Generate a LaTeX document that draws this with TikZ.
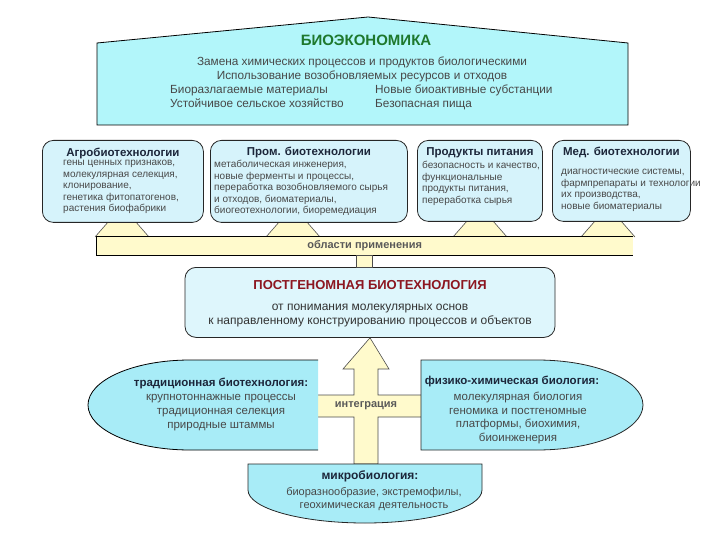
\documentclass[tikz,border=0pt]{standalone}
\usepackage{fontspec}
\setmainfont{Liberation Sans}
\usetikzlibrary{positioning}

\definecolor{roofcyan}{RGB}{178,246,250}
\definecolor{boxcyan}{RGB}{214,243,251}
\definecolor{postcyan}{RGB}{222,246,252}
\definecolor{ovalcyan}{RGB}{168,236,247}
\definecolor{baryellow}{RGB}{255,250,204}
\definecolor{txtgray}{RGB}{72,72,72}
\definecolor{headnavy}{RGB}{28,38,58}
\definecolor{bioegreen}{RGB}{30,120,45}
\definecolor{postred}{RGB}{140,22,32}

\begin{document}
\begin{tikzpicture}[x=1pt, y=-1pt,
    every node/.style={inner sep=0pt, text=txtgray},
    box/.style={draw=black!85, line width=0.8pt, rounded corners=11pt, fill=boxcyan},
    head/.style={font=\bfseries\fontsize{11.5}{13}\selectfont, text=headnavy},
    body/.style={align=left, font=\fontsize{10}{11.5}\selectfont},
    rooftxt/.style={font=\fontsize{11.8}{13}\selectfont},
    oval/.style={draw=black!85, line width=0.8pt, fill=ovalcyan},
    yel/.style={draw=black!70, line width=0.6pt, fill=baryellow}]
  \useasboundingbox (0,0) rectangle (720,540);

  % roof
  \draw[line width=0.8pt, fill=roofcyan] (97,125) -- (97,43) -- (368,17) -- (628,43) -- (628,125) -- cycle;
  \node[font=\bfseries\fontsize{15}{16}\selectfont, text=bioegreen] (bioe) at (366,40) {БИОЭКОНОМИКА};
  \node[rooftxt] (bioe1) at (362,62) {Замена химических процессов и продуктов биологическими};
  \node[rooftxt] (bioe2) at (362,76) {Использование возобновляемых ресурсов и отходов};
  \node[rooftxt, anchor=base west] (bioe3) at (170,94) {Биоразлагаемые материалы};
  \node[rooftxt, anchor=base west] (bioe4) at (170,108) {Устойчивое сельское хозяйство};
  \node[rooftxt, anchor=base west] (bioe5) at (375,94) {Новые биоактивные субстанции};
  \node[rooftxt, anchor=base west] (bioe6) at (375,108) {Безопасная пища};

  % yellow feet under the boxes
  \foreach \cx in {122,293,480,608}
    \draw[yel] (\cx-27,237) -- (\cx-13,221) -- (\cx+13,221) -- (\cx+27,237);

  % application boxes
  \node[box, minimum width=161pt, minimum height=82pt, anchor=north west] (agro) at (42,140) {};
  \node[box, minimum width=197pt, minimum height=82pt, anchor=north west] (prom) at (210,140) {};
  \node[box, minimum width=125pt, minimum height=81pt, anchor=north west] (food) at (417,140) {};
  \node[box, minimum width=138pt, minimum height=81pt, anchor=north west] (med) at (552,140) {};

  \node[head, below=8pt of agro.north] (agrohead) {Агробиотехнологии};
  \node[body, below right=20pt and 21pt of agro.north west] (agrobody)
    {гены ценных признаков,\\молекулярная селекция,\\клонирование,\\генетика фитопатогенов,\\растения биофабрики};
  \node[head, below=7pt of prom.north] (promhead) {Пром. биотехнологии};
  \node[body, below right=20pt and 4pt of prom.north west] (prombody)
    {метаболическая инженерия,\\новые ферменты и процессы,\\переработка возобновляемого сырья\\и отходов, биоматериалы,\\биогеотехнологии, биоремедиация};
  \node[head, below=7pt of food.north] (foodhead) {Продукты питания};
  \node[body, below right=21pt and 5pt of food.north west] (foodbody)
    {безопасность и качество,\\функциональные\\продукты питания,\\переработка сырья};
  \node[head, below=7pt of med.north] (medhead) {Мед. биотехнологии};
  \node[body, below right=29pt and 9pt of med.north west] (medbody)
    {диагностические системы,\\фармпрепараты и технологии\\их производства,\\новые биоматериалы};

  % bar
  \node[fill=baryellow, minimum width=537pt, minimum height=19pt, anchor=north west,
        font=\bfseries\fontsize{11}{13}\selectfont, text=black!65] (bar) at (96,236) {области применения};
  \draw[line width=0.8pt] (bar.north east) -- (bar.north west) -- (bar.south west) -- (bar.south east);

  % post-genomic box
  \node[box, fill=postcyan, minimum width=370pt, minimum height=70pt, anchor=north] (post) at (370,267) {};
  \draw[yel] ([xshift=-8pt]bar.south) rectangle ([xshift=8pt]bar.south |- post.north);
  \node[font=\bfseries\fontsize{13}{15}\selectfont, text=postred, below=13pt of post.north] (posthead)
    {ПОСТГЕНОМНАЯ БИОТЕХНОЛОГИЯ};
  \node[align=center, font=\fontsize{12}{14.5}\selectfont, text=black!80, anchor=north] (postbody)
    at ([yshift=-14pt]posthead.south)
    {от понимания молекулярных основ\\к направленному конструированию процессов и объектов};

  % integration arrow
  \draw[yel] (post.south) -- (389,369) -- (378,369) -- (378,395) -- (424,395) -- (424,417)
    -- (378,417) -- (378,464) -- (354,464) -- (354,417) -- (314,417) -- (314,395)
    -- (354,395) -- (354,369) -- (343,369) -- cycle;
  \node[font=\bfseries\fontsize{11}{13}\selectfont, text=black!65] (integ) at (366,406) {интеграция};

  % traditional biotechnology
  \fill[ovalcyan] (318,360) -- (190,360) .. controls (133.7,360) and (88,380.1) .. (88,405)
    .. controls (88,429.9) and (133.7,450) .. (190,450) -- (318,450) -- cycle;
  \draw[line width=0.8pt] (318,360) -- (190,360) .. controls (133.7,360) and (88,380.1) .. (88,405)
    .. controls (88,429.9) and (133.7,450) .. (190,450) -- (318,450);
  \node[head, font=\bfseries\fontsize{11.5}{13}\selectfont] (trad) at (221,383) {традиционная биотехнология:};
  \node[align=center, font=\fontsize{11.5}{14}\selectfont, below=5pt of trad] (tradbody)
    {крупнотоннажные процессы\\традиционная селекция\\природные штаммы};

  % physico-chemical biology
  \draw[oval] (421,360) -- (537,360) .. controls (595.5,360) and (643,380.1) .. (643,405)
    .. controls (643,429.9) and (595.5,450) .. (537,450) -- (421,450) -- cycle;
  \node[head, font=\bfseries\fontsize{11.5}{13}\selectfont] (phys) at (512,381) {физико-химическая биология:};
  \node[align=center, font=\fontsize{11.5}{13.8}\selectfont, below=5pt of phys, xshift=6pt] (physbody)
    {молекулярная биология\\геномика и постгеномные\\платформы, биохимия,\\биоинженерия};

  % microbiology
  \draw[oval] (248,464) -- (482,464) -- (482,490) .. controls (482,508.2) and (429.6,523) .. (365,523)
    .. controls (300.4,523) and (248,508.2) .. (248,490) -- cycle;
  \node[head, font=\bfseries\fontsize{12}{14}\selectfont] (micro) at (370,476) {микробиология:};
  \node[align=center, font=\fontsize{11}{13.5}\selectfont, below=5pt of micro, xshift=4pt] (microbody)
    {биоразнообразие, экстремофилы,\\геохимическая деятельность};
\end{tikzpicture}
\end{document}
